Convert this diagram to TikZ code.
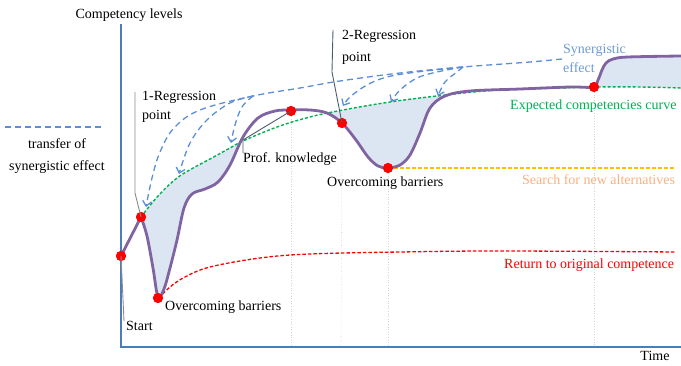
\documentclass[tikz,border=0pt]{standalone}
\usepackage{fontspec}
\setmainfont{Liberation Serif}
\usetikzlibrary{arrows.meta}
\definecolor{axisblue}{HTML}{4A7EBB}
\definecolor{synblue}{HTML}{5A8FD6}
\definecolor{syntext}{HTML}{6C9BD2}
\definecolor{expgreen}{HTML}{00B050}
\definecolor{purplec}{HTML}{8064A2}
\definecolor{fillc}{HTML}{DCE6F2}
\definecolor{orangeline}{HTML}{FFC000}
\definecolor{orangetext}{HTML}{F9B07E}
\definecolor{leadgray}{HTML}{8C8C8C}
\definecolor{leaddark}{HTML}{4D5B6E}
\begin{document}
\begin{tikzpicture}[x=1pt,y=-1pt,
  lbl/.style={font=\fontsize{14}{19}\selectfont, inner sep=0pt, text height=9.5pt, text depth=3pt},
  dot/.style={circle, fill=red, draw=none, minimum size=10pt, inner sep=0pt},
  synarrow/.style={synblue, line width=1.3pt, dash pattern=on 6pt off 4pt, -{Straight Barb[length=5pt,width=9pt]}},
  gridline/.style={gray!35, line width=0.6pt, dotted},
  axisline/.style={axisblue, line width=2pt},
  leadg/.style={leadgray, line width=0.9pt},
  leadd/.style={leaddark, line width=0.9pt}]
\useasboundingbox (0,0) rectangle (681,366);

% shaded regions where actual curve lies below expected curve
\begin{scope}
  \clip (141,0) rectangle (500,366);
  \clip plot[smooth,tension=0.55] coordinates {(141,217) (147,236) (153,268) (158,297) (164,289) (170,268) (177,240) (184,208) (192,194) (205,189) (218,182) (230,165) (243,137) (258,118) (275,111) (291,110) (310,110) (327,113) (342,123) (356,140) (368,157) (378,166) (388,168) (400,165) (410,155) (420,133) (430,108) (445,96) (470,91) (520,89) (570,87) (593,87) (598,80) (602,70) (606,63) (613,59) (628,57) (681,56)} -- (681,0) -- (121,0) -- cycle;
  \fill[fillc] plot[smooth,tension=0.6] coordinates {(141,217) (158,196) (177,178) (195,167) (210,159) (230,148) (243,141) (277,127) (310,117) (343,110) (390,102) (437,96) (497,90) (560,88) (597,87) (640,87) (681,88)} -- (681,366) -- (141,366) -- cycle;
\end{scope}
% shaded region where actual curve lies above expected curve
\begin{scope}
  \clip (593,0) rectangle (681,366);
  \clip plot[smooth,tension=0.55] coordinates {(520,89) (570,87) (593,87) (598,80) (602,70) (606,63) (613,59) (628,57) (681,56)} -- (681,366) -- (520,366) -- cycle;
  \fill[fillc] plot[smooth,tension=0.6] coordinates {(497,90) (560,88) (597,87) (640,87) (681,88)} -- (681,0) -- (497,0) -- cycle;
\end{scope}

% dots (named positions)
\node[dot] (d0) at (121,256) {};
\node[dot] (d1) at (141,217) {};
\node[dot] (d2) at (158,298) {};
\node[dot] (d3) at (291,111) {};
\node[dot] (d4) at (342,123) {};
\node[dot] (d5) at (388,168) {};
\node[dot] (d6) at (594,87) {};

% grid lines
\coordinate (g3) at (291,346);
\coordinate (g4) at (341,346);
\coordinate (g5) at (388,346);
\coordinate (g6) at (594,346);
\draw[gridline] (d3.center) -- (g3);
\draw[gridline] (d4.center) -- (g4);
\draw[gridline] (d5.center) -- (g5);
\draw[gridline] (d6.center) -- (g6);

% axes
\coordinate (ytop) at (121,24);
\coordinate (orig) at (121,347);
\coordinate (xend) at (681,347);
\draw[axisline] (ytop) -- (orig) -- (xend);

% expected competencies curve
\draw[expgreen, line width=1.4pt, dash pattern=on 3pt off 2pt] plot[smooth,tension=0.6] coordinates {(141,217) (158,196) (177,178) (195,167) (210,159) (230,148) (243,141) (277,127) (310,117) (343,110) (390,102) (437,96) (497,90) (560,88) (597,87) (640,87) (681,88)};

% return to original competence
\draw[red, line width=1.3pt, dash pattern=on 3.5pt off 2pt] plot[smooth,tension=0.6] coordinates {(159,298) (170,287) (185,277) (210,267) (260,258) (310,254) (400,252) (500,251) (676,252)};

% search for new alternatives
\coordinate (oend) at (675,168);
\draw[orangeline, line width=1.3pt, dash pattern=on 4pt off 2pt] (d5.center) -- (oend);

% actual competency curve
\draw[purplec, line width=2.8pt, line join=round] (121,256) -- plot[smooth,tension=0.55] coordinates {(141,217) (147,236) (153,268) (158,297) (164,289) (170,268) (177,240) (184,208) (192,194) (205,189) (218,182) (230,165) (243,137) (258,118) (275,111) (291,110) (310,110) (327,113) (342,123) (356,140) (368,157) (378,166) (388,168) (400,165) (410,155) (420,133) (430,108) (445,96) (470,91) (520,89) (570,87) (593,87) (598,80) (602,70) (606,63) (613,59) (628,57) (681,56)};

% redraw dots on top
\foreach \p/\q in {121/256,141/217,158/298,291/111,342/123,388/168,594/87}
  \fill[red] (\p,\q) circle (5pt);

% transfer of synergistic effect
\draw[synarrow] plot[smooth,tension=0.6] coordinates {(562,59) (530,62) (463,67) (400,73) (340,81) (300,88) (253,96) (200,110) (174,128) (160,152) (152,178) (146,207)};
\draw[synarrow] plot[smooth,tension=0.6] coordinates {(253,96) (230,103) (207,120) (190,143) (179,174)};
\draw[synarrow] plot[smooth,tension=0.6] coordinates {(253,96) (242,107) (235,125) (231,143)};
\draw[synarrow] plot[smooth,tension=0.6] coordinates {(463,67) (417,72) (387,77) (367,85) (350,97) (343,106)};
\draw[synarrow] plot[smooth,tension=0.6] coordinates {(463,67) (437,72) (417,78) (400,90) (391,102)};
\draw[synarrow] plot[smooth,tension=0.6] coordinates {(463,67) (457,72) (445,82) (438,96)};

% legend
\coordinate (lg1) at (5,127);
\coordinate (lg2) at (103,127);
\draw[synblue, line width=1.5pt, dash pattern=on 6pt off 4pt] (lg1) -- (lg2);
\node[lbl] (leg1) at (57,145) {transfer of};
\node[lbl] (leg2) at (57,167) {synergistic effect};

% axis labels
\node[lbl] (ylab) at (129,15) {Competency levels};
\node[lbl] (xlab) at (655,357) {Time};

% point labels and leaders
\node[lbl, anchor=west] (start) at (126,327) {Start};
\coordinate (sl) at (124,321);
\draw[leadg] (d0.center) -- (sl);

\node[lbl, anchor=west] (r1a) at (142,97) {1-Regression};
\node[lbl, anchor=west] (r1b) at (142,116) {point};
\coordinate (r1t) at (135,92);
\coordinate (r1m) at (135,193);
\draw[leadg] (r1t) -- (r1m) -- (d1.center);

\node[lbl, anchor=west] (ob1) at (165,307) {Overcoming barriers};

\node[lbl, anchor=west] (prof) at (243,159) {Prof. knowledge};
\coordinate (pk1) at (243,153);
\coordinate (pk2) at (243,140);
\draw[leadd] (pk1) -- (pk2) -- (d3.center);

\node[lbl, anchor=west] (r2a) at (342,36) {2-Regression};
\node[lbl, anchor=west] (r2b) at (342,58) {point};
\coordinate (r2t) at (333,30);
\coordinate (r2m) at (332,72);
\draw[leadd] (r2t) -- (r2m) -- (d4.center);

\node[lbl, anchor=west] (ob2) at (327,183) {Overcoming barriers};

\node[lbl, anchor=west, text=orangetext] (search) at (522,181) {Search for new alternatives};
\node[lbl, anchor=west, text=expgreen] (expc) at (510,106) {Expected competencies curve};
\node[lbl, anchor=west, text=red] (ret) at (504,265) {Return to original competence};
\node[lbl, anchor=west, text=syntext] (syn1) at (563,50) {Synergistic};
\node[lbl, anchor=west, text=syntext] (syn2) at (563,69) {effect};
\end{tikzpicture}
\end{document}
